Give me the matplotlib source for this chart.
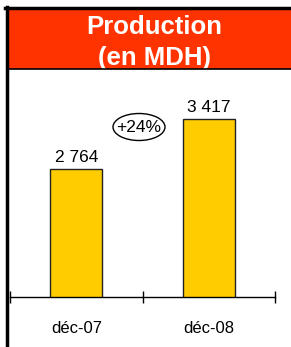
import matplotlib.pyplot as plt
from matplotlib.patches import Rectangle, Ellipse
from matplotlib.lines import Line2D

plt.rcParams['font.family'] = ['Liberation Sans', 'DejaVu Sans']

categories = ['déc-07', 'déc-08']
values = [2764, 3417]
value_labels = ['2 764', '3 417']
growth_label = '+24%'
title_lines = ['Production', '(en MDH)']

W, H = 291, 347
fig = plt.figure(figsize=(W / 100, H / 100), dpi=100)
fig.patch.set_facecolor('white')

# red header band
fig.patches.append(Rectangle((8 / W, 1 - 69 / H), 1 - 8 / W, 59 / H,
                             transform=fig.transFigure, facecolor='#FF3300',
                             edgecolor='none', zorder=0))
fig.lines.append(Line2D([8 / W, 1], [1 - 69 / H, 1 - 69 / H], transform=fig.transFigure,
                        color='black', lw=1.2, zorder=5))
# frame at top and left
fig.lines.append(Line2D([5 / W, 1], [1 - 8 / H, 1 - 8 / H], transform=fig.transFigure,
                        color='black', lw=2.5))
fig.lines.append(Line2D([6.5 / W, 6.5 / W], [0, 1 - 7 / H], transform=fig.transFigure,
                        color='black', lw=2.5))

fig.text(154 / W, 1 - 26.5 / H, title_lines[0], color='white', fontsize=18.5,
         fontweight='bold', ha='center', va='center', zorder=2)
fig.text(154 / W, 1 - 58.5 / H, title_lines[1], color='white', fontsize=18.5,
         fontweight='bold', ha='center', va='center', zorder=2)

ax = fig.add_axes([10 / W, (H - 297) / H, 265 / W, 228 / H])
ax.set_facecolor('none')
x = list(range(len(categories)))
bars = ax.bar(x, values, width=0.39, color='#FFCC00', edgecolor='#222222', linewidth=1)
ax.set_xlim(-0.5, 1.5)
ax.set_ylim(1092, 4069)

for b, lab in zip(bars, value_labels):
    ax.annotate(lab, (b.get_x() + b.get_width() / 2, b.get_height()),
                xytext=(0, 3), textcoords='offset points', ha='center', va='bottom',
                fontsize=12.5)

for s in ['top', 'left', 'right']:
    ax.spines[s].set_visible(False)
ax.spines['bottom'].set_linewidth(1)
ax.set_yticks([])
ax.set_xticks(x)
ax.set_xticklabels(categories, fontsize=12)
ax.tick_params(axis='x', which='major', length=0, pad=17)
ax.set_xticks([-0.5, 0.5, 1.5], minor=True)
ax.tick_params(axis='x', which='minor', direction='inout', length=9, width=1)

# growth bubble
ex = (139 - 10) / 265 * 2 - 0.5
ey = 1092 + (297 - 127) / 228 * (4069 - 1092)
ax.add_patch(Ellipse((ex, ey), 52 / 265 * 2, 27 / 228 * (4069 - 1092),
                     facecolor='white', edgecolor='black', lw=1, clip_on=False))
ax.text(ex, ey, growth_label, ha='center', va='center', fontsize=12.5)

fig.savefig('out.png', dpi=100)
